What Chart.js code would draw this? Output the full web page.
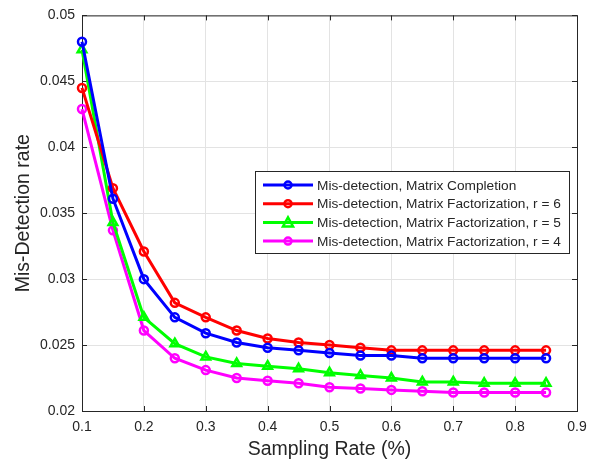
<!DOCTYPE html>
<html>
<head>
<meta charset="utf-8">
<script src="https://cdn.jsdelivr.net/npm/chart.js@4"></script>
<style>
  html, body { margin:0; padding:0; background:#fff; }
  #wrap { width:607px; height:462px; }
</style>
</head>
<body>
<div id="wrap"><canvas id="myChart" width="607" height="462"></canvas></div>
<script>
// sampling rates (x) and the four mis-detection curves
var samplingRate = [0.1, 0.15, 0.2, 0.25, 0.3, 0.35, 0.4, 0.45, 0.5, 0.55, 0.6, 0.65, 0.7, 0.75, 0.8, 0.85];
var matrixCompletion = [0.0480, 0.0361, 0.0300, 0.0271, 0.0259, 0.0252, 0.0248, 0.0246, 0.0244, 0.0242, 0.0242, 0.0240, 0.0240, 0.0240, 0.0240, 0.0240];
var factorizationR6 = [0.0445, 0.0369, 0.0321, 0.0282, 0.0271, 0.0261, 0.0255, 0.0252, 0.0250, 0.0248, 0.0246, 0.0246, 0.0246, 0.0246, 0.0246, 0.0246];
var factorizationR5 = [0.0474, 0.0343, 0.0271, 0.0251, 0.0241, 0.0236, 0.0234, 0.0232, 0.0229, 0.0227, 0.0225, 0.0222, 0.0222, 0.0221, 0.0221, 0.0221];
var factorizationR4 = [0.0429, 0.0337, 0.0261, 0.0240, 0.0231, 0.0225, 0.0223, 0.0221, 0.0218, 0.0217, 0.0216, 0.0215, 0.0214, 0.0214, 0.0214, 0.0214];
var seriesNames = [
  'Mis-detection, Matrix Completion',
  'Mis-detection, Matrix Factorization, r = 6',
  'Mis-detection, Matrix Factorization, r = 5',
  'Mis-detection, Matrix Factorization, r = 4'
];

function pts(vals) {
  return vals.map(function (v, i) { return { x: samplingRate[i], y: v }; });
}

function ds(label, vals, color, shape) {
  return {
    label: label,
    data: pts(vals),
    borderColor: color,
    backgroundColor: 'rgba(0,0,0,0)',
    borderWidth: 3,
    pointStyle: shape,
    pointRadius: shape === 'triangle' ? 5 : 4,
    pointBorderWidth: 2.5,
    pointBorderColor: color,
    pointBackgroundColor: 'rgba(0,0,0,0)',
    clip: false,
    tension: 0
  };
}

var axisColor = '#262626';
var fontFam = '"Liberation Sans", Arial, sans-serif';

// box around the axes + inward ticks on all sides (MATLAB look)
var boxPlugin = {
  id: 'box',
  beforeDatasetsDraw: function (c) {
    var a = c.chartArea, ctx = c.ctx;
    var xs = c.scales.x, ys = c.scales.y;
    ctx.save();
    ctx.strokeStyle = axisColor;
    ctx.lineWidth = 1;
    ctx.strokeRect(a.left + 0.5, a.top + 0.5, a.right - a.left, a.bottom - a.top);
    ctx.beginPath();
    xs.ticks.forEach(function (t) {
      var px = Math.round(xs.getPixelForValue(t.value)) + 0.5;
      ctx.moveTo(px, a.bottom); ctx.lineTo(px, a.bottom - 5);
      ctx.moveTo(px, a.top); ctx.lineTo(px, a.top + 5);
    });
    ys.ticks.forEach(function (t) {
      var py = Math.round(ys.getPixelForValue(t.value)) + 0.5;
      ctx.moveTo(a.left, py); ctx.lineTo(a.left + 5, py);
      ctx.moveTo(a.right, py); ctx.lineTo(a.right - 5, py);
    });
    ctx.stroke();
    ctx.restore();
  },
  afterDraw: function (c) {
    // legend drawn inside the axes
    var ctx = c.ctx;
    var bx = 255, by = 171, bw = 314, bh = 82;
    ctx.save();
    ctx.fillStyle = '#fff';
    ctx.fillRect(bx, by, bw, bh);
    ctx.strokeStyle = axisColor;
    ctx.lineWidth = 1;
    ctx.strokeRect(bx + 0.5, by + 0.5, bw, bh);
    ctx.font = '13.7px ' + fontFam;
    ctx.textBaseline = 'middle';
    c.data.datasets.forEach(function (d, i) {
      var y = by + 14 + i * 18.7;
      ctx.strokeStyle = d.borderColor;
      ctx.lineWidth = 3;
      ctx.beginPath();
      ctx.moveTo(bx + 8, y); ctx.lineTo(bx + 58, y);
      ctx.stroke();
      ctx.lineWidth = 2.5;
      ctx.beginPath();
      if (d.pointStyle === 'triangle') {
        ctx.moveTo(bx + 33, y - 5); ctx.lineTo(bx + 38, y + 4); ctx.lineTo(bx + 28, y + 4); ctx.closePath();
      } else {
        ctx.arc(bx + 33, y, 3.5, 0, Math.PI * 2);
      }
      ctx.stroke();
      ctx.fillStyle = axisColor;
      ctx.fillText(d.label, bx + 62, y + 1);
    });
    ctx.restore();
  }
};

var myChart = document.getElementById('myChart').getContext('2d');
var chart = new Chart(myChart, {
  type: 'line',
  data: {
    datasets: [
      ds(seriesNames[0], matrixCompletion, '#0000ff', 'circle'),
      ds(seriesNames[1], factorizationR6, '#ff0000', 'circle'),
      ds(seriesNames[2], factorizationR5, '#00ff00', 'triangle'),
      ds(seriesNames[3], factorizationR4, '#ff00ff', 'circle')
    ]
  },
  options: {
    responsive: false,
    animation: false,
    layout: { padding: { top: 14, right: 30, left: 0, bottom: 0 } },
    plugins: {
      legend: { display: false },
      tooltip: { enabled: false }
    },
    scales: {
      x: {
        type: 'linear',
        min: 0.1,
        max: 0.9,
        afterFit: function (s) { s.height = 51; },
        grid: { color: '#e3e3e3', drawTicks: false },
        border: { display: false },
        ticks: {
          stepSize: 0.1,
          padding: 8,
          color: axisColor,
          font: { family: fontFam, size: 14 },
          callback: function (v) { return (Math.round(v * 10) / 10).toString(); }
        },
        title: {
          display: true,
          text: 'Sampling Rate (%)',
          color: axisColor,
          padding: { top: 1, bottom: 1 },
          font: { family: fontFam, size: 19.5 }
        }
      },
      y: {
        min: 0.02,
        max: 0.05,
        afterFit: function (s) { s.width = 82; },
        grid: { color: '#e3e3e3', drawTicks: false },
        border: { display: false },
        ticks: {
          stepSize: 0.005,
          padding: 7,
          color: axisColor,
          font: { family: fontFam, size: 14 },
          callback: function (v) { return (Math.round(v * 1000) / 1000).toString(); }
        },
        title: {
          display: true,
          text: 'Mis-Detection rate',
          color: axisColor,
          padding: { top: 12, bottom: 0 },
          font: { family: fontFam, size: 19.5 }
        }
      }
    }
  },
  plugins: [boxPlugin]
});
</script>
</body>
</html>
